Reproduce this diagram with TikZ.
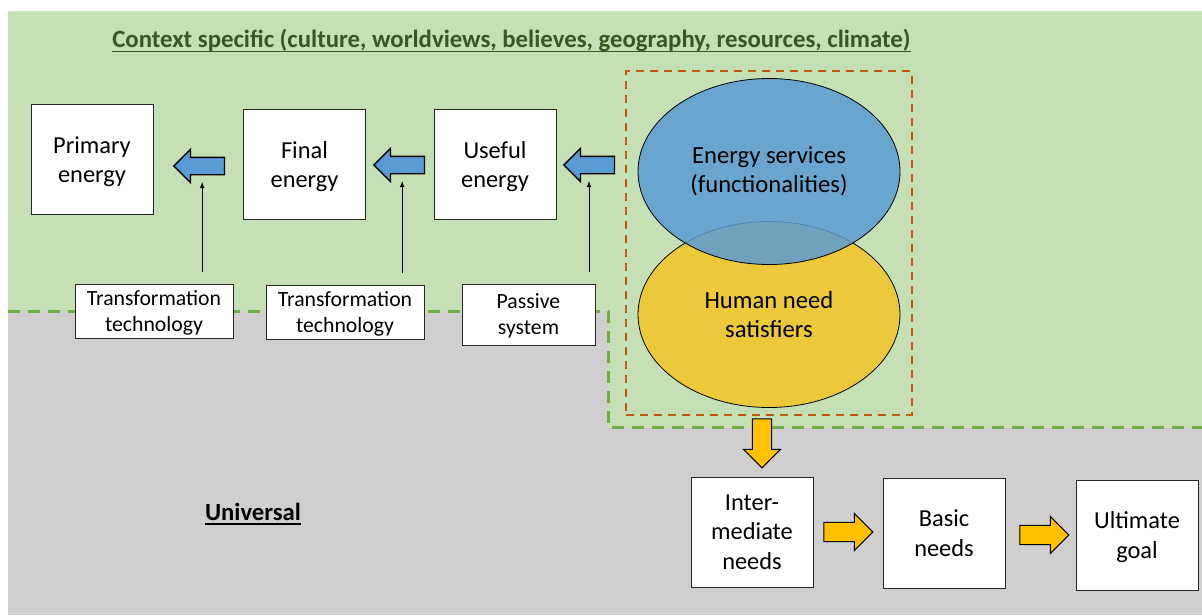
\documentclass[tikz,border=0pt]{standalone}
\usepackage{fontspec}
\setmainfont{Carlito}
\usepackage{tikz}
\usetikzlibrary{shapes.geometric, shapes.arrows, fit}

\definecolor{ctxgreen}{HTML}{C5E0B4}
\definecolor{univgray}{HTML}{D0CECE}
\definecolor{edgegreen}{HTML}{70AD47}
\definecolor{titlegreen}{HTML}{385723}
\definecolor{frameorange}{HTML}{C55A11}
\definecolor{flowblue}{HTML}{5B9BD5}
\definecolor{needgold}{HTML}{FFC000}
\definecolor{satyellow}{HTML}{ECC93A}
\newcommand{\undertext}[1]{\setbox0\hbox{#1}\rlap{\rule[-3.7pt]{\wd0}{1.4pt}}\box0}

\begin{document}
\begin{tikzpicture}[x=0.75pt, y=-0.75pt,
    box/.style={draw=black!85, fill=white, line width=0.6pt, align=center, inner sep=0pt, text depth=0pt,
        minimum width=91.5pt, minimum height=82.5pt, font=\fontsize{18.3}{22}\selectfont},
    techbox/.style={box, minimum width=118.5pt, minimum height=40.5pt, font=\fontsize{16.3}{19.5}\selectfont},
    bluearrow/.style={single arrow, draw=black, line width=1pt, fill=flowblue, inner xsep=0pt, inner ysep=6pt,
        minimum height=38pt, single arrow head extend=6pt, rotate=180},
    goldarrow/.style={single arrow, draw=black, line width=0.75pt, fill=needgold, inner xsep=0pt, inner ysep=6.9pt,
        minimum height=36.75pt, single arrow head extend=6.6pt},
    bubble/.style={ellipse, draw=black, line width=0.6pt, inner sep=0pt, align=center,
        minimum width=196.5pt, minimum height=139.5pt, font=\fontsize{18.5}{22}\selectfont},
    feed/.style={-latex, line width=0.6pt, shorten <=9pt, shorten >=12pt}]
    \useasboundingbox (0,0) rectangle (1202,615);
    \fill[white] (0,0) rectangle (1202,615);
    \fill[univgray] (8,11) rectangle (1202,615);
    \fill[ctxgreen] (8,11) -- (1202,11) -- (1202,427) -- (608,427) -- (608,311) -- (8,311) -- cycle;
    \draw[edgegreen, line width=2.25pt, dash pattern=on 9pt off 6pt] (8,311) -- (608,311) -- (608,427) -- (1202,427);

    \node[anchor=base, text=titlegreen, font=\fontsize{18.6}{22}\bfseries\selectfont] (ctx) at (511.5,47.5)
        {\undertext{Context specific (culture, worldviews, believes, geography, resources, climate)}};
    \node[anchor=base, font=\fontsize{18.5}{22}\bfseries\selectfont] (univ) at (253,520) {\undertext{Universal}};

    \node[box] (prim) at (92,159.5) {Primary\\energy};
    \node[box] (final) at (304.5,164.5) {Final\\energy};
    \node[box] (use) at (495,164.5) {Useful\\energy};
    \node[bluearrow] (a1) at (203.5,166) {};
    \node[bluearrow] (a2) at (403.5,165) {};
    \node[bluearrow] (a3) at (593.5,165) {};

    \node[techbox] (tech1) at (154,311) {Transformation\\technology};
    \node[techbox] (tech2) at (345,312) {Transformation\\technology};
    \node[techbox, minimum width=99.75pt, minimum height=45.75pt] (pass) at (528.5,314.5) {Passive\\system};
    \draw[feed] ([xshift=-1pt]a1.center |- tech1.north) -- ([xshift=-1pt]a1.center);
    \draw[feed] ([xshift=-1pt]a2.center |- tech2.north) -- ([xshift=-1pt]a2.center);
    \draw[feed] ([xshift=-3.4pt]a3.center |- pass.north) -- ([xshift=-3.4pt]a3.center);

    \node[bubble, fill=satyellow] (sat) at (769,314.5) {Human need\\satisfiers};
    \node[bubble, fill=flowblue, fill opacity=0.85, text opacity=1] (serv) at (769,171.5) {Energy services\\(functionalities)};
    \node[fit=(serv)(sat), draw=frameorange, line width=1.5pt, dash pattern=on 6pt off 4.5pt,
        inner xsep=8.5pt, inner ysep=5pt] (pair) {};

    \node[goldarrow, rotate=-90] (down) at (762,438.5) {};
    \node[box] (inter) at (752,532) {Inter-\\mediate\\needs};
    \node[box] (basic) at (944,533) {Basic\\needs};
    \node[box] (ult) at (1137,535) {Ultimate\\goal};
    \node[goldarrow] (g1) at (843.5,532) {};
    \node[goldarrow] (g2) at (1039.5,535) {};
\end{tikzpicture}
\end{document}
